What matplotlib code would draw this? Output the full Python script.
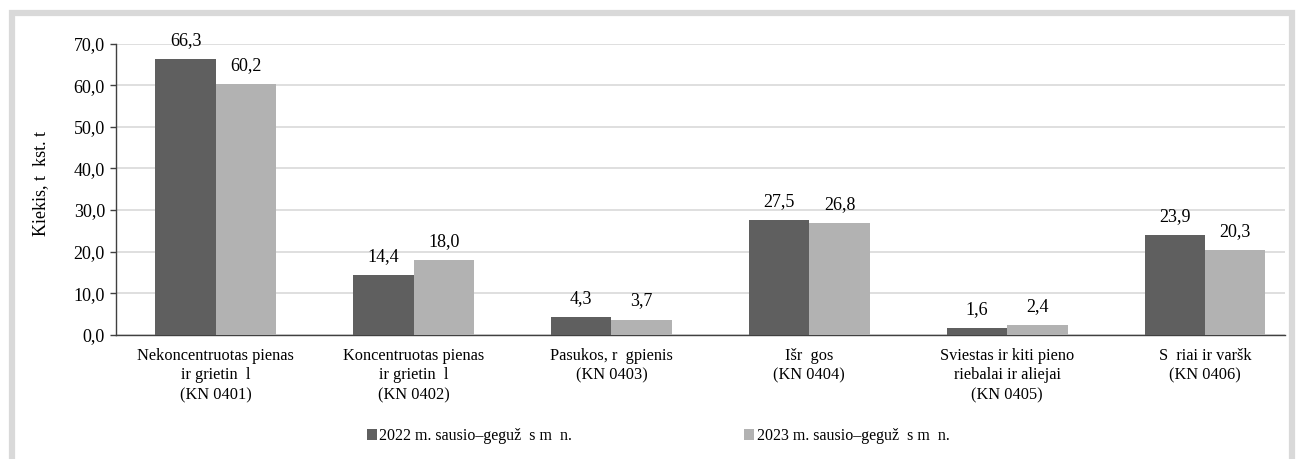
import matplotlib

matplotlib.use("Agg")

import matplotlib.pyplot as plt
import numpy as np
from matplotlib.patches import Rectangle

categories = [
    "Nekoncentruotas pienas\nir grietin  l\n(KN 0401)",
    "Koncentruotas pienas\nir grietin  l\n(KN 0402)",
    "Pasukos, r  gpienis\n(KN 0403)",
    "Išr  gos\n(KN 0404)",
    "Sviestas ir kiti pieno\nriebalai ir aliejai\n(KN 0405)",
    "S  riai ir varšk\n(KN 0406)",
]
series_names = ["2022 m. sausio–geguž  s m  n.", "2023 m. sausio–geguž  s m  n."]
values_2022 = [66.3, 14.4, 4.3, 27.5, 1.6, 23.9]
values_2023 = [60.2, 18.0, 3.7, 26.8, 2.4, 20.3]
y_ticks = [0, 10, 20, 30, 40, 50, 60, 70]
y_label = "Kiekis, t  kst. t"

colors = ["#5f5f5f", "#b2b2b2"]

plt.rcParams["font.family"] = ["Liberation Serif", "DejaVu Serif"]
plt.rcParams["font.size"] = 12

fig = plt.figure(figsize=(12.96, 4.59), dpi=100)
ax = fig.add_axes([116 / 1296, 1 - 335 / 459, (1285 - 116) / 1296, (335 - 43.5) / 459])

x = np.arange(len(categories))
width = 0.305
for offset, vals, color, name in [(-width / 2, values_2022, colors[0], series_names[0]),
                                  (width / 2, values_2023, colors[1], series_names[1])]:
    bars = ax.bar(x + offset, vals, width, color=color, label=name, zorder=3)
    for bar, v in zip(bars, vals):
        ax.annotate(f"{v:.1f}".replace(".", ","), (bar.get_x() + bar.get_width() / 2, v),
                    xytext=(0, 13.5), textcoords="offset points", ha="center", va="center",
                    fontsize=13)

ax.set_xlim(-0.504, 5.404)
ax.set_ylim(0, 70)
ax.set_yticks(y_ticks)
ax.set_yticklabels([f"{t:.1f}".replace(".", ",") for t in y_ticks], fontsize=13)
ax.set_xticks(x)
ax.set_xticklabels(categories, linespacing=1.32, fontsize=11.8)
ax.tick_params(axis="x", length=0, pad=9)
ax.tick_params(axis="y", length=4, width=1, color="#404040", pad=4)
ax.grid(axis="y", color="#d9d9d9", linewidth=1.2, zorder=0)
for side in ["top", "right"]:
    ax.spines[side].set_visible(False)
for side in ["left", "bottom"]:
    ax.spines[side].set_color("#404040")
    ax.spines[side].set_linewidth(1.0)
ax.set_ylabel(y_label, fontsize=13)
ax.yaxis.set_label_coords(-0.057, 0.52)

fig.legend(loc="center", bbox_to_anchor=(658 / 1296, 1 - 436 / 459), ncol=2, frameon=False,
           fontsize=11.5, handlelength=0.62, handleheight=0.62, handletextpad=0.15,
           columnspacing=10.8)

fig.patches.append(Rectangle((12 / 1296, -0.1), (1292 - 12) / 1296, 1.1 - 13 / 459,
                             transform=fig.transFigure, fill=False,
                             edgecolor="#d9d9d9", linewidth=4.5))

fig.savefig("out.png", dpi=100)
